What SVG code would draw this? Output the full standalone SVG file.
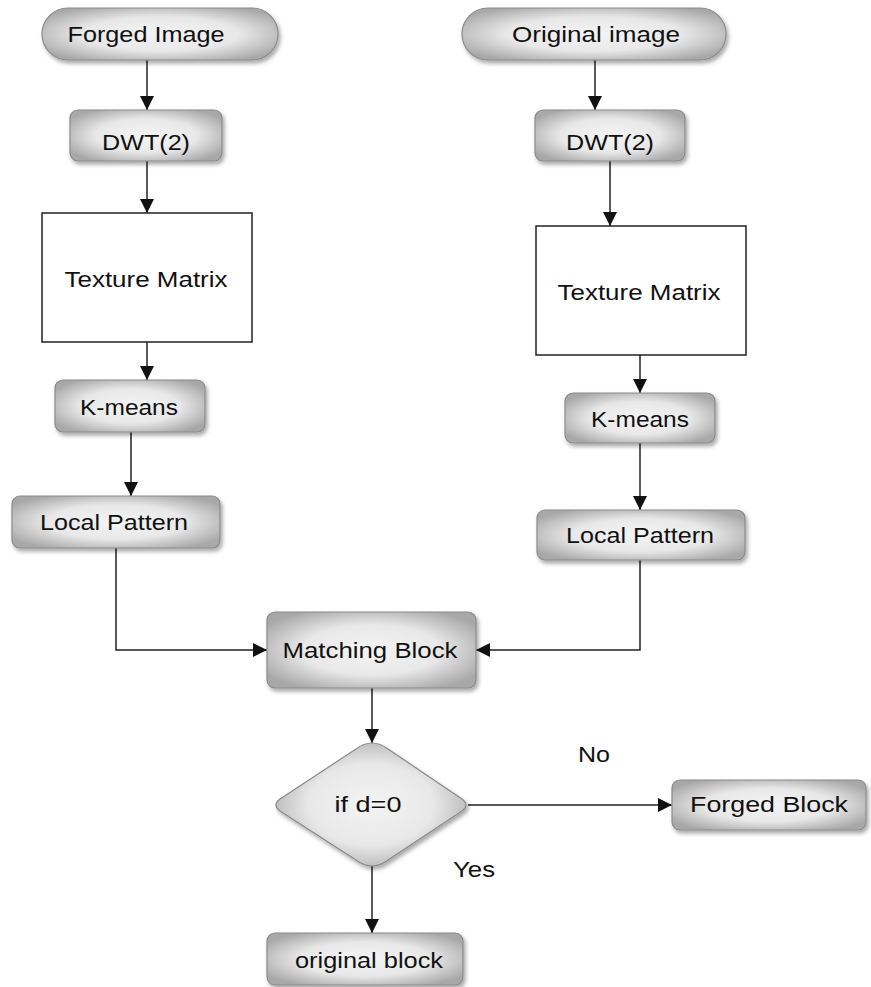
<svg xmlns="http://www.w3.org/2000/svg" width="871" height="987" viewBox="0 0 871 987">
<defs>
<radialGradient id="g" cx="50%" cy="50%" r="60%">
<stop offset="0" stop-color="#f4f4f4"/>
<stop offset="0.55" stop-color="#e8e8e8"/>
<stop offset="1" stop-color="#a8a8a8"/>
</radialGradient>
<filter id="sh" x="-10%" y="-20%" width="125%" height="150%">
<feGaussianBlur in="SourceAlpha" stdDeviation="2"/>
<feOffset dx="2" dy="3" result="b"/>
<feComponentTransfer><feFuncA type="linear" slope="0.35"/></feComponentTransfer>
<feMerge><feMergeNode/><feMergeNode in="SourceGraphic"/></feMerge>
</filter>
<marker id="ah" viewBox="0 0 14 14" refX="14" refY="7" markerWidth="14" markerHeight="14" markerUnits="userSpaceOnUse" orient="auto">
<path d="M0,0 L14,7 L0,14 Z" fill="#111"/>
</marker>
</defs>
<style>
.bx{fill:url(#g);stroke:#8a8a8a;stroke-width:1.2;filter:url(#sh)}
.pl{fill:#fff;stroke:#222;stroke-width:1.5}
.t{font-family:"Liberation Sans",Arial,sans-serif;font-size:22px;fill:#111;text-anchor:middle}
.c{fill:none;stroke:#222;stroke-width:1.5}
</style>
<rect width="871" height="987" fill="#fff"/>
<g id="connectors">
<path class="c" d="M147,60 V110" marker-end="url(#ah)"/>
<path class="c" d="M147,161 V213" marker-end="url(#ah)"/>
<path class="c" d="M147,342 V380" marker-end="url(#ah)"/>
<path class="c" d="M131,432 V496" marker-end="url(#ah)"/>
<path class="c" d="M116,548 V650 H267" marker-end="url(#ah)"/>
<path class="c" d="M595,60 V110" marker-end="url(#ah)"/>
<path class="c" d="M610,161 V226" marker-end="url(#ah)"/>
<path class="c" d="M640,355 V393" marker-end="url(#ah)"/>
<path class="c" d="M640,443 V510" marker-end="url(#ah)"/>
<path class="c" d="M640,560 V650 H476" marker-end="url(#ah)"/>
<path class="c" d="M372,688 V743" marker-end="url(#ah)"/>
<path class="c" d="M468,805 H672" marker-end="url(#ah)"/>
<path class="c" d="M372,866 V933" marker-end="url(#ah)"/>
</g>
<g id="forged-image">
<rect class="bx" x="42" y="8" width="236" height="52" rx="26"/>
<text class="t" x="146" y="42" textLength="157" lengthAdjust="spacingAndGlyphs">Forged Image</text>
</g>
<g id="original-image">
<rect class="bx" x="462" y="8" width="264" height="52" rx="26"/>
<text class="t" x="596" y="42" textLength="168" lengthAdjust="spacingAndGlyphs">Original image</text>
</g>
<g id="dwt-left">
<rect class="bx" x="70" y="110" width="152" height="51" rx="8"/>
<text class="t" x="146" y="150" textLength="88" lengthAdjust="spacingAndGlyphs">DWT(2)</text>
</g>
<g id="dwt-right">
<rect class="bx" x="535" y="110" width="150" height="51" rx="8"/>
<text class="t" x="610" y="150" textLength="88" lengthAdjust="spacingAndGlyphs">DWT(2)</text>
</g>
<g id="texture-left">
<rect class="pl" x="42" y="213" width="210" height="129"/>
<text class="t" x="146" y="287" textLength="163" lengthAdjust="spacingAndGlyphs">Texture Matrix</text>
</g>
<g id="texture-right">
<rect class="pl" x="536" y="226" width="210" height="129"/>
<text class="t" x="639" y="300" textLength="163" lengthAdjust="spacingAndGlyphs">Texture Matrix</text>
</g>
<g id="kmeans-left">
<rect class="bx" x="55" y="380" width="150" height="52" rx="8"/>
<text class="t" x="129" y="415" textLength="98" lengthAdjust="spacingAndGlyphs">K-means</text>
</g>
<g id="kmeans-right">
<rect class="bx" x="565" y="393" width="150" height="50" rx="8"/>
<text class="t" x="640" y="427" textLength="98" lengthAdjust="spacingAndGlyphs">K-means</text>
</g>
<g id="local-left">
<rect class="bx" x="12" y="496" width="208" height="52" rx="8"/>
<text class="t" x="114" y="530" textLength="148" lengthAdjust="spacingAndGlyphs">Local Pattern</text>
</g>
<g id="local-right">
<rect class="bx" x="537" y="510" width="208" height="50" rx="8"/>
<text class="t" x="640" y="543" textLength="148" lengthAdjust="spacingAndGlyphs">Local Pattern</text>
</g>
<g id="matching-block">
<rect class="bx" x="267" y="612" width="209" height="76" rx="8"/>
<text class="t" x="370" y="658" textLength="175" lengthAdjust="spacingAndGlyphs">Matching Block</text>
</g>
<g id="decision">
<path class="bx" d="M372,743 Q380,743 388,749 L462,799 Q470,805 462,811 L388,860 Q380,866 372,866 Q364,866 356,860 L280,811 Q272,805 280,799 L356,749 Q364,743 372,743 Z"/>
<text class="t" x="368" y="812" textLength="67" lengthAdjust="spacingAndGlyphs">if d=0</text>
</g>
<g id="forged-block">
<rect class="bx" x="672" y="780" width="194" height="50" rx="8"/>
<text class="t" x="769" y="812" textLength="158" lengthAdjust="spacingAndGlyphs">Forged Block</text>
</g>
<g id="original-block">
<rect class="bx" x="267" y="933" width="196" height="52" rx="8"/>
<text class="t" x="369" y="968" textLength="148" lengthAdjust="spacingAndGlyphs">original block</text>
</g>
<g id="labels">
<text class="t" x="594" y="762" textLength="32" lengthAdjust="spacingAndGlyphs">No</text>
<text class="t" x="474" y="877" textLength="42" lengthAdjust="spacingAndGlyphs">Yes</text>
</g>
</svg>
